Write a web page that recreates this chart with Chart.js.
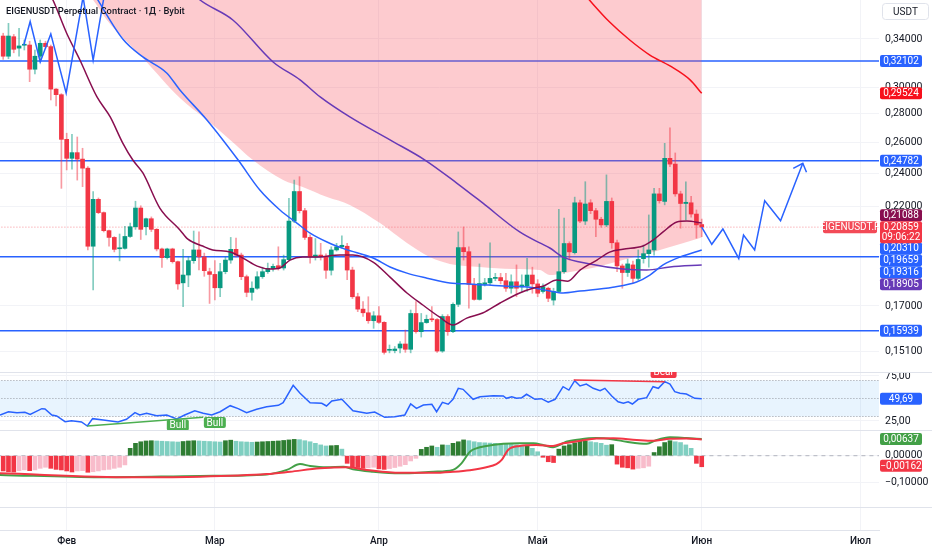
<!DOCTYPE html>
<html>
<head>
<meta charset="utf-8">
<title>EIGENUSDT</title>
<script src="https://cdn.jsdelivr.net/npm/chart.js@4.4.1/dist/chart.umd.min.js"></script>
<style>
  html, body { margin: 0; padding: 0; background: #ffffff; }
  #wrap { position: relative; width: 932px; height: 550px; overflow: hidden; }
  #wrap canvas { position: absolute; left: 0; }
  #title { position: absolute; left: 6px; top: 5px; font: 500 9.4px Roboto, sans-serif; color: #131722; z-index: 5; }
</style>
</head>
<body>
<div id="wrap">
  <canvas id="mainPane" width="932" height="372" style="top:0"></canvas>
  <canvas id="rsiPane" width="932" height="58" style="top:372px"></canvas>
  <canvas id="macdPane" width="932" height="77" style="top:430px"></canvas>
  <canvas id="timePane" width="932" height="43" style="top:507px"></canvas>
  <div id="title">EIGENUSDT Perpetual Contract · 1Д · Bybit</div>
</div>
<script>
// ---- data (bar index 0 = first visible daily candle) ----
const monthIdx = [12, 40, 71, 101, 132, 162];
const monthLabels = ['Фев', 'Мар', 'Апр', 'Май', 'Июн', 'Июл'];
const priceTicks = [0.34, 0.30, 0.28, 0.26, 0.24, 0.22, 0.17, 0.151];

const opens = [
  0.3426,0.3251,0.3420,0.3320,0.3345,0.3347,0.3143,0.3251,0.3362,0.3333,
  0.2985,0.2942,0.2620,0.2494,0.2531,0.2489,0.2431,0.1985,0.2242,0.2166,
  0.2067,0.2031,0.1972,0.1974,0.2036,0.2088,0.2192,0.2088,0.2132,0.2074,
  0.1971,0.1927,0.1971,0.1907,0.1805,0.1842,0.1912,0.1966,0.1931,0.1858,
  0.1845,0.1782,0.1858,0.1915,0.1969,0.1940,0.1834,0.1761,0.1780,0.1834,
  0.1858,0.1873,0.1887,0.1876,0.1917,0.2119,0.2288,0.2177,0.2031,0.1931,
  0.1940,0.1933,0.1865,0.1966,0.1982,0.1985,0.1866,0.1741,0.1686,0.1670,
  0.1636,0.1657,0.1629,0.1515,0.1514,0.1524,0.1540,0.1519,0.1667,0.1590,
  0.1628,0.1643,0.1641,0.1512,0.1654,0.1590,0.1707,0.1978,0.1957,0.1798,
  0.1729,0.1798,0.1805,0.1826,0.1830,0.1815,0.1780,0.1810,0.1786,0.1790,
  0.1842,0.1800,0.1765,0.1780,0.1726,0.1765,0.1858,0.1999,0.1952,0.2222,
  0.2119,0.2222,0.2177,0.2129,0.2098,0.2230,0.2003,0.1886,0.1854,0.1891,
  0.1826,0.1922,0.1947,0.1966,0.2274,0.2230,0.2494,0.2457,0.2274,0.2218,
  0.2222,0.2158,0.2100];
const highs = [
  0.3451,0.3541,0.3440,0.3495,0.3391,0.3380,0.3304,0.3391,0.3380,0.3347,
  0.2990,0.2950,0.2662,0.2655,0.2636,0.2560,0.2441,0.2288,0.2250,0.2170,
  0.2070,0.2035,0.2049,0.2090,0.2108,0.2231,0.2205,0.2135,0.2142,0.2078,
  0.1975,0.1975,0.1975,0.1910,0.1969,0.1931,0.2065,0.2060,0.1950,0.1875,
  0.1912,0.1899,0.1931,0.2031,0.2027,0.1950,0.1842,0.1810,0.1858,0.1880,
  0.1900,0.1895,0.1982,0.1940,0.2248,0.2357,0.2378,0.2190,0.2044,0.2025,
  0.2000,0.1946,0.1982,0.2000,0.2040,0.2000,0.1880,0.1757,0.1719,0.1741,
  0.1675,0.1697,0.1632,0.1536,0.1530,0.1550,0.1597,0.1682,0.1719,0.1667,
  0.1660,0.1697,0.1645,0.1662,0.1662,0.1714,0.2060,0.2087,0.1982,0.1826,
  0.1896,0.1826,0.2003,0.1850,0.1850,0.1850,0.1843,0.1891,0.1843,0.1923,
  0.1880,0.1820,0.1800,0.1785,0.1780,0.2185,0.2135,0.2008,0.2255,0.2238,
  0.2347,0.2240,0.2190,0.2140,0.2389,0.2250,0.2017,0.1895,0.1920,0.1910,
  0.1966,0.1991,0.2153,0.2307,0.2307,0.2593,0.2700,0.2529,0.2290,0.2347,
  0.2260,0.2181,0.2130];
const lows = [
  0.3225,0.3230,0.3280,0.3251,0.3304,0.3043,0.3106,0.3205,0.3320,0.2902,
  0.2858,0.2307,0.2420,0.2424,0.2357,0.2317,0.1966,0.1772,0.2160,0.2060,
  0.1985,0.1956,0.1911,0.1970,0.2031,0.2074,0.2020,0.2044,0.2062,0.1961,
  0.1879,0.1920,0.1900,0.1775,0.1697,0.1787,0.1899,0.1866,0.1836,0.1711,
  0.1727,0.1741,0.1848,0.1899,0.1931,0.1820,0.1741,0.1726,0.1775,0.1826,
  0.1850,0.1860,0.1866,0.1866,0.1915,0.2110,0.2164,0.2020,0.1899,0.1915,
  0.1915,0.1826,0.1842,0.1960,0.1975,0.1820,0.1733,0.1675,0.1654,0.1625,
  0.1604,0.1625,0.1500,0.1505,0.1505,0.1505,0.1507,0.1505,0.1584,0.1568,
  0.1625,0.1632,0.1507,0.1507,0.1575,0.1586,0.1697,0.1915,0.1690,0.1726,
  0.1726,0.1790,0.1795,0.1815,0.1800,0.1765,0.1757,0.1741,0.1765,0.1765,
  0.1757,0.1741,0.1757,0.1719,0.1704,0.1760,0.1850,0.1915,0.1945,0.2110,
  0.2100,0.2160,0.2035,0.2085,0.2088,0.1974,0.1858,0.1780,0.1835,0.1805,
  0.1818,0.1900,0.1880,0.1940,0.2220,0.2210,0.2440,0.2260,0.2080,0.2125,
  0.2140,0.2027,0.2035];
const closes = [
  0.3251,0.3426,0.3310,0.3339,0.3350,0.3143,0.3251,0.3362,0.3333,0.2985,
  0.2942,0.2620,0.2494,0.2531,0.2489,0.2431,0.1985,0.2242,0.2166,0.2067,
  0.2031,0.1969,0.1976,0.2036,0.2088,0.2192,0.2074,0.2132,0.2074,0.1971,
  0.1927,0.1971,0.1907,0.1800,0.1842,0.1912,0.1966,0.1931,0.1863,0.1845,
  0.1782,0.1858,0.1915,0.1969,0.1940,0.1834,0.1761,0.1780,0.1834,0.1858,
  0.1874,0.1884,0.1876,0.1917,0.2119,0.2288,0.2177,0.2031,0.1931,0.1940,
  0.1933,0.1865,0.1966,0.1982,0.1990,0.1866,0.1741,0.1686,0.1670,0.1636,
  0.1657,0.1629,0.1507,0.1519,0.1520,0.1540,0.1519,0.1667,0.1590,0.1628,
  0.1642,0.1640,0.1512,0.1654,0.1590,0.1707,0.1978,0.1957,0.1798,0.1729,
  0.1802,0.1805,0.1826,0.1830,0.1815,0.1780,0.1810,0.1780,0.1795,0.1842,
  0.1800,0.1757,0.1787,0.1734,0.1765,0.1858,0.1999,0.1956,0.2222,0.2119,
  0.2215,0.2177,0.2129,0.2098,0.2230,0.2003,0.1886,0.1854,0.1896,0.1826,
  0.1918,0.1947,0.1966,0.2274,0.2234,0.2494,0.2457,0.2274,0.2218,0.2225,
  0.2158,0.2098,0.2086];
const lastPrice = 0.20859;
const countdown = '09:06:22';

// moving averages, sampled as [bar index, price]
const ema20 = [[7.9,0.3912],[9.4,0.3762],[12.0,0.3451],[14.5,0.3219],[17.7,0.2927],[20.2,0.2779],[22.6,0.2595],
  [24.5,0.2483],[26.4,0.2401],[29.6,0.2192],[33.4,0.2071],[34.9,0.2022],[37.7,0.1986],[39.6,0.1966],[42.9,0.1956],
  [45.3,0.1925],[48.0,0.1885],[50.4,0.1871],[52.3,0.1876],[54.2,0.1915],[56.6,0.1930],[59.3,0.1930],[63.6,0.1940],
  [66.1,0.1940],[69.9,0.1905],[73.1,0.1832],[76.3,0.1758],[79.3,0.1704],[82.5,0.1651],[85.0,0.1618],[87.6,0.1647],
  [90.6,0.1669],[93.9,0.1713],[97.6,0.1758],[100.1,0.1780],[102.0,0.1789],[104.6,0.1818],[106.7,0.1813],[109.0,0.1866],
  [112.2,0.1915],[114.6,0.1955],[117.1,0.1970],[120.9,0.1986],[122.8,0.2017],[124.7,0.2060],[127.3,0.2114],
  [129.2,0.2119],[132.0,0.21088]];
const ema50 = [[17.3,0.3812],[22.6,0.3400],[26.4,0.3245],[30.9,0.3113],[33.4,0.2978],[38.5,0.2755],[44.4,0.2483],
  [48.5,0.2297],[52.3,0.2181],[55.5,0.2108],[58.0,0.2054],[61.2,0.2007],[64.6,0.1970],[69.9,0.1925],[73.1,0.1881],
  [76.3,0.1851],[80.1,0.1827],[84.4,0.1804],[88.8,0.1799],[95.2,0.1789],[99.5,0.1785],[103.3,0.1767],[105.8,0.1758],
  [109.0,0.1767],[115.2,0.1785],[119.7,0.1809],[122.2,0.1842],[124.7,0.1891],[127.9,0.1930],[132.0,0.19659]];
const ema100 = [[36.2,0.3812],[37.2,0.3762],[43.4,0.3572],[51.0,0.3203],[56.1,0.3057],[59.9,0.2925],[65.5,0.2777],
  [73.1,0.2616],[79.7,0.2483],[85.7,0.2339],[90.6,0.2221],[97.6,0.2060],[101.4,0.2002],[103.3,0.1976],[105.8,0.1930],
  [110.9,0.1896],[117.1,0.1871],[121.6,0.1866],[126.0,0.1881],[132.0,0.18905]];
const ema200 = [[109.9,0.3812],[114.6,0.3553],[118.4,0.3391],[122.2,0.3261],[126.0,0.3170],[129.8,0.3057],[132.0,0.29524]];
const cloudEdge = [[16.0,0.3812],[17.0,0.3762],[19.6,0.3572],[26.4,0.3236],[33.4,0.2917],[38.5,0.2755],[42.9,0.2616],
  [47.2,0.2483],[52.9,0.2357],[56.6,0.2315],[61.2,0.2255],[65.5,0.2210],[71.2,0.2108],[76.3,0.2002],[80.6,0.1930],
  [84.4,0.1896],[90.1,0.1881],[96.3,0.1871],[101.4,0.1866],[103.3,0.1842],[105.8,0.1851],[112.2,0.1881],[117.1,0.1915],
  [122.2,0.1950],[126.0,0.1981],[129.2,0.2007],[132.0,0.20310]];

// drawings
const levels = [0.32102, 0.24782, 0.19316, 0.15939];
const zigzagPast = [[3.9,0.3347],[5.1,0.3558],[7.0,0.3203],[9.0,0.3445],[11.9,0.2955],[15.1,0.3792],[17.0,0.3219],[19.6,0.3963]];
const zigzagPlan = [[132.0,0.2086],[133.9,0.1995],[136.0,0.2076],[139.0,0.1923],[139.9,0.2043],[142.0,0.1966],
  [143.9,0.2234],[146.9,0.2121],[151.1,0.2462]];
const planArrow = [[149.3,0.2430],[151.1,0.2462],[151.8,0.2405]];

// RSI
const rsiIdx = [-0.6,1.0,2.6,4.1,5.1,7.3,7.9,9.2,10.1,11.7,12.9,14.8,15.9,16.9,18.9,21.7,23.3,24.9,25.8,27.1,29.0,30.9,
  32.8,34.3,36.2,37.8,39.4,41.0,42.9,44.4,46.0,47.9,49.8,52.0,52.9,54.8,56.1,58.0,60.2,61.1,62.1,64.0,66.1,68.7,70.2,
  72.1,74.0,75.9,77.0,78.1,79.4,81.0,81.9,83.0,84.1,85.0,86.0,86.9,88.8,90.1,92.6,94.5,95.1,96.1,97.0,98.0,98.9,100.5,
  101.7,103.0,104.3,105.8,106.9,108.0,109.0,110.2,111.5,112.8,113.7,115.0,116.2,117.2,118.1,118.9,120.0,121.6,122.8,
  123.8,125.0,126.0,126.9,127.9,129.1,130.7,132.0];
const rsiVal = [31.7,35.3,34.3,34.6,32.4,38.7,38.3,31.7,30.6,24.3,25.4,23.9,19.4,27.6,26.1,23.9,26.9,34.3,31.7,33.6,30.9,
  31.7,27.2,31.7,36.4,33.6,31.7,35.3,42.0,38.7,34.3,38.0,40.9,42.4,45.3,64.7,55.8,45.3,44.7,41.7,47.2,49.1,36.4,33.6,
  35.0,29.1,29.8,31.7,43.9,39.1,42.8,43.6,35.3,45.8,43.6,49.1,61.3,60.2,49.1,52.0,53.1,52.8,50.2,52.0,50.2,50.9,54.7,
  49.1,49.8,45.8,49.1,63.1,59.4,69.8,63.9,66.1,61.3,58.7,61.3,52.8,46.4,44.7,46.4,43.9,49.1,50.9,63.1,61.3,68.7,66.1,
  57.6,55.8,55.0,50.2,49.69];
const rsiLevels = [70, 50, 30];
const rsiTicks = [75, 25];
const bullDiv = [[15.9,19.4],[37.8,29.1]];
const bearDiv = [[107.8,70.6],[125.0,68.7]];
const bullTagIdx = [33, 40];
const bullTagRsi = [20.6, 23.3];
const bearTag = [124.8, 79.4];

// MACD
const hist = [
  -0.0058,-0.0061,-0.0062,-0.0057,-0.0054,-0.0057,-0.0054,-0.0048,-0.0044,-0.0048,
  -0.0052,-0.0054,-0.0058,-0.0062,-0.0058,-0.0057,-0.0063,-0.0061,-0.0058,-0.0054,
  -0.0052,-0.0048,-0.0044,-0.0035,0.0028,0.0047,0.0053,0.0056,0.0057,0.0056,
  0.0055,0.0054,0.0053,0.0052,0.0054,0.0056,0.0057,0.0056,0.0055,0.0054,
  0.0053,0.0052,0.0057,0.0059,0.0055,0.0053,0.0052,0.0051,0.0052,0.0053,
  0.0054,0.0055,0.0056,0.0058,0.0060,0.0062,0.0061,0.0057,0.0053,0.0047,
  0.0041,0.0037,0.0038,0.0039,0.0025,-0.0029,-0.0042,-0.0045,-0.0048,-0.0046,
  -0.0044,-0.0050,-0.0052,-0.0049,-0.0045,-0.0040,-0.0034,-0.0020,-0.0010,0.0024,
  0.0032,0.0037,0.0032,0.0041,0.0040,0.0047,0.0053,0.0060,0.0057,0.0053,
  0.0050,0.0049,0.0048,0.0047,0.0046,0.0044,0.0043,0.0041,0.0038,0.0040,
  0.0028,0.0015,-0.0006,-0.0023,-0.0026,0.0025,0.0037,0.0042,0.0049,0.0055,
  0.0056,0.0053,0.0050,0.0047,0.0040,0.0042,-0.0032,-0.0044,-0.0046,-0.0051,
  -0.0048,-0.0046,-0.0040,0.0012,0.0034,0.0050,0.0057,0.0053,0.0050,0.0041,
  0.0028,-0.0029,-0.0042];
const macdLine = [[-0.6,-0.0073],[18.3,-0.0082],[37.2,-0.0077],[49.8,-0.0071],[53.6,-0.0054],[56.1,-0.0032],[58.0,-0.0039],
  [61.1,-0.0044],[64.3,-0.0042],[66.1,-0.0052],[69.9,-0.0061],[75.0,-0.0067],[81.3,-0.0061],[85.0,-0.0054],[86.6,-0.0029],
  [88.2,0.0015],[89.4,0.0028],[91.3,0.0037],[94.5,0.0045],[97.6,0.0047],[100.2,0.0047],[102.0,0.0041],[103.9,0.0032],
  [105.2,0.0041],[106.4,0.0053],[108.9,0.0062],[112.1,0.0067],[115.3,0.0062],[117.8,0.0053],[121.6,0.0045],[123.5,0.0060],
  [126.0,0.0070],[129.1,0.0067],[132.0,0.00637]];
const signalLine = [[-0.6,-0.0067],[24.6,-0.0082],[37.2,-0.0080],[49.8,-0.0070],[54.2,-0.0061],[59.9,-0.0048],[64.9,-0.0044],
  [68.7,-0.0054],[75.0,-0.0065],[81.3,-0.0065],[85.0,-0.0061],[88.2,-0.0055],[91.3,-0.0044],[93.2,-0.0032],[94.2,-0.0016],
  [95.4,0.0022],[97.6,0.0037],[100.8,0.0041],[103.9,0.0037],[105.8,0.0047],[108.9,0.0056],[112.1,0.0065],[115.3,0.0066],
  [119.7,0.0060],[122.8,0.0057],[126.0,0.0064],[129.1,0.0065],[132.0,0.0062]];
const macdTicks = [0, -0.01];
const macdTickText = ['0,00000', '−0,10000'];
const histLastTag = -0.00162;

// ---- layout ----
const xMin = -0.6, xMax = 165.5;
const axisW = 53;
const priceMin = 0.1432, priceMax = 0.3762;
const rsiMin = 15.0, rsiMax = 79.44;
const macdMin = -0.0195, macdMax = 0.00977;
const blue = '#2962ff', gridC = '#f2f3f7', sepC = '#e0e3eb';

Chart.defaults.font.family = 'Roboto, "DejaVu Sans", sans-serif';
Chart.defaults.font.size = 10.5;
Chart.defaults.color = '#131722';
Chart.defaults.animation = false;
Chart.defaults.plugins.legend.display = false;
Chart.defaults.plugins.tooltip.enabled = false;

const fmt = (v, d) => (v < 0 ? '−' : '') + Math.abs(v).toFixed(d).replace('.', ',');
const pts = arr => arr.map(([x, y]) => ({ x, y }));
const flat = v => [{ x: xMin - 2, y: v }, { x: xMax + 2, y: v }];
const line = (data, color, width, order, extra) => Object.assign({
  type: 'line', data, borderColor: color, borderWidth: width, pointRadius: 0, fill: false, order
}, extra || {});

function tag(ctx, cx, cy, w, h, fill, text, color) {
  ctx.save();
  ctx.fillStyle = fill;
  ctx.beginPath();
  ctx.roundRect(cx - w / 2, cy - h / 2, w, h, 2);
  ctx.fill();
  ctx.fillStyle = color || '#ffffff';
  ctx.font = '10px Roboto, sans-serif';
  ctx.textAlign = 'center';
  ctx.textBaseline = 'middle';
  ctx.fillText(text, cx, cy + 0.5);
  ctx.restore();
}

const xAxis = (showLabels) => ({
  type: 'linear', min: xMin, max: xMax, offset: false,
  grid: { color: gridC, drawTicks: false, offset: false },
  border: { display: !!showLabels, color: sepC },
  ticks: showLabels
    ? { display: true, padding: 5, maxRotation: 0, font: { size: 10, weight: '500' },
        callback: v => monthLabels[monthIdx.indexOf(v)] }
    : { display: false },
  afterBuildTicks: s => { s.ticks = monthIdx.map(v => ({ value: v })); },
  afterFit: s => {
    if (showLabels) s.height = 20;
    s.paddingLeft = 0;
    s.paddingRight = 0;
  }
});
const rightAxis = (extra) => Object.assign({
  position: 'right',
  grid: { color: gridC, drawTicks: false },
  border: { display: false },
  afterFit: s => {
    s.width = axisW;
    s.paddingTop = 0;
    s.paddingBottom = 0;
  }
}, extra);

const paneTop = {
  id: 'paneTop',
  afterDraw(chart) {
    const ctx = chart.ctx;
    ctx.save();
    ctx.strokeStyle = sepC;
    ctx.lineWidth = 1;
    ctx.beginPath();
    ctx.moveTo(0, 0.5);
    ctx.lineTo(chart.width, 0.5);
    ctx.stroke();
    ctx.restore();
  }
};

// ---- main pane ----
const isUp = i => closes[i] >= opens[i];
const axisMarks = [
  { v: levels[0], c: blue },
  { v: ema200[ema200.length - 1][1], c: '#f7101c' },
  { v: levels[1], c: blue },
  { v: ema20[ema20.length - 1][1], c: '#880e4f' },
  { v: cloudEdge[cloudEdge.length - 1][1], c: blue },
  { v: ema50[ema50.length - 1][1], c: blue },
  { v: levels[2], c: blue },
  { v: ema100[ema100.length - 1][1], c: '#673ab7' },
  { v: levels[3], c: blue }
];

const mainMarks = {
  id: 'mainMarks',
  afterDraw(chart) {
    const { ctx, chartArea } = chart;
    const y = chart.scales.y;
    const cx = chartArea.right + 22;
    const cy = y.getPixelForValue(lastPrice);
    const above = [], below = [];
    axisMarks.forEach(m => {
      const py = y.getPixelForValue(m.v);
      (py < cy ? above : below).push({ v: m.v, c: m.c, py });
    });
    above.sort((a, b) => b.py - a.py);
    let lim = cy - 12;
    above.forEach(m => { m.py = Math.min(m.py, lim); lim = m.py - 12; });
    below.sort((a, b) => a.py - b.py);
    lim = cy + 21;
    below.forEach(m => { m.py = Math.max(m.py, lim); lim = m.py + 12; });
    above.concat(below).forEach(m => tag(ctx, cx, m.py, 42, 12, m.c, fmt(m.v, 5)));

    // last price with countdown
    ctx.save();
    ctx.fillStyle = '#f23645';
    ctx.beginPath();
    ctx.roundRect(cx - 21, cy - 6, 42, 22, 2);
    ctx.fill();
    ctx.fillStyle = '#ffffff';
    ctx.font = '10px Roboto, sans-serif';
    ctx.textAlign = 'center';
    ctx.textBaseline = 'middle';
    ctx.fillText(fmt(lastPrice, 5), cx, cy + 0.5);
    ctx.fillText(countdown, cx, cy + 10.5);
    ctx.restore();
    tag(ctx, chartArea.right - 29, cy, 54, 12, 'rgba(242,54,69,0.9)', 'EIGENUSDT.P');

    // currency box
    ctx.save();
    ctx.fillStyle = '#ffffff';
    ctx.strokeStyle = sepC;
    ctx.beginPath();
    ctx.roundRect(chartArea.right + 3.5, 3.5, 46, 16, 3);
    ctx.fill();
    ctx.stroke();
    ctx.fillStyle = '#131722';
    ctx.font = '10px Roboto, sans-serif';
    ctx.textAlign = 'center';
    ctx.textBaseline = 'middle';
    ctx.fillText('USDT', chartArea.right + 26.5, 12);
    ctx.restore();
  }
};

new Chart(document.getElementById('mainPane'), {
  type: 'bar',
  data: {
    datasets: [
      ...levels.map(v => line(flat(v), blue, 1.5, 30)),
      line(flat(lastPrice), 'rgba(242,54,69,0.55)', 1, 25, { borderDash: [1, 2] }),
      line(pts(cloudEdge), 'rgba(0,0,0,0)', 0, 20,
        { fill: 'end', backgroundColor: 'rgba(247,82,95,0.3)', cubicInterpolationMode: 'monotone' }),
      {
        type: 'bar', order: 12, grouped: false, barThickness: 1,
        data: closes.map((c, i) => ({ x: i, y: [lows[i], highs[i]] })),
        backgroundColor: ctx => isUp(ctx.dataIndex) ? 'rgba(8,153,129,0.5)' : 'rgba(242,54,69,0.5)'
      },
      {
        type: 'bar', order: 11, grouped: false, barThickness: 4, minBarLength: 1,
        data: closes.map((c, i) => ({ x: i, y: [opens[i], c] })),
        backgroundColor: ctx => isUp(ctx.dataIndex) ? '#089981' : '#f23645'
      },
      line(pts(ema100), '#673ab7', 1.5, 8, { cubicInterpolationMode: 'monotone' }),
      line(pts(ema50), blue, 1.5, 7, { cubicInterpolationMode: 'monotone' }),
      line(pts(ema20), '#880e4f', 1.5, 6, { cubicInterpolationMode: 'monotone' }),
      line(pts(ema200), '#f7101c', 1.5, 5, { cubicInterpolationMode: 'monotone' }),
      line(pts(zigzagPast), blue, 1.5, 2),
      line(pts(zigzagPlan), blue, 1.5, 2),
      line(pts(planArrow), blue, 1.5, 2)
    ]
  },
  options: {
    responsive: false,
    layout: { padding: 0 },
    scales: {
      x: xAxis(false),
      y: rightAxis({
        type: 'logarithmic', min: priceMin, max: priceMax, beginAtZero: false,
        ticks: { padding: 6, callback: v => fmt(v, 5) },
        afterBuildTicks: s => { s.ticks = priceTicks.map(v => ({ value: v })); }
      })
    }
  },
  plugins: [mainMarks]
});

// ---- RSI pane ----
const rsiMarks = {
  id: 'rsiMarks',
  afterDraw(chart) {
    const { ctx, chartArea } = chart;
    const { x, y } = chart.scales;
    tag(ctx, chartArea.right + 22, y.getPixelForValue(rsiVal[rsiVal.length - 1]), 42, 12, blue, fmt(rsiVal[rsiVal.length - 1], 2));
    bullTagIdx.forEach((i, k) => tag(ctx, x.getPixelForValue(i), y.getPixelForValue(bullTagRsi[k]), 22, 11, '#4caf50', 'Bull'));
    tag(ctx, x.getPixelForValue(bearTag[0]), y.getPixelForValue(bearTag[1]), 26, 12, '#f23645', 'Bear');
  }
};

new Chart(document.getElementById('rsiPane'), {
  type: 'line',
  data: {
    datasets: [
      line(flat(rsiLevels[0]), '#9598a1', 1, 10, { borderDash: [1, 2], fill: { value: rsiLevels[2] }, backgroundColor: 'rgba(33,150,243,0.1)' }),
      line(flat(rsiLevels[1]), '#9598a1', 1, 9, { borderDash: [1, 2] }),
      line(flat(rsiLevels[2]), '#9598a1', 1, 9, { borderDash: [1, 2] }),
      line(rsiIdx.map((x, i) => ({ x, y: rsiVal[i] })), blue, 1.5, 3),
      line(pts(bullDiv), '#4caf50', 1.5, 2),
      line(pts(bearDiv), '#f23645', 1.5, 2)
    ]
  },
  options: {
    responsive: false,
    layout: { padding: 0 },
    scales: {
      x: xAxis(false),
      y: rightAxis({
        type: 'linear', min: rsiMin, max: rsiMax,
        ticks: { padding: 6, callback: v => fmt(v, 2) },
        afterBuildTicks: s => { s.ticks = rsiTicks.map(v => ({ value: v })); }
      })
    }
  },
  plugins: [paneTop, rsiMarks]
});

// ---- MACD pane ----
const histColor = i => {
  const v = hist[i], p = i > 0 ? hist[i - 1] : v;
  if (v >= 0) return v >= p ? '#2e7d32' : '#7fcfc1';
  return v <= p ? '#f23645' : '#f8bccb';
};
const macdMarks = {
  id: 'macdMarks',
  afterDraw(chart) {
    const { ctx, chartArea } = chart;
    const y = chart.scales.y;
    const cx = chartArea.right + 22;
    tag(ctx, cx, y.getPixelForValue(macdLine[macdLine.length - 1][1]), 42, 12, '#43a047', fmt(macdLine[macdLine.length - 1][1], 5));
    tag(ctx, cx, y.getPixelForValue(0) + 10, 42, 12, '#f23645', fmt(histLastTag, 5));
  }
};

new Chart(document.getElementById('macdPane'), {
  type: 'bar',
  data: {
    datasets: [
      line(flat(0), '#b2b5be', 1, 10, { borderDash: [4, 4] }),
      {
        type: 'bar', order: 8, grouped: false, barThickness: 4,
        data: hist.map((v, i) => ({ x: i, y: v })),
        backgroundColor: ctx => histColor(ctx.dataIndex)
      },
      line(pts(macdLine), '#43a047', 2, 3, { cubicInterpolationMode: 'monotone' }),
      line(pts(signalLine), '#f23645', 2, 2, { cubicInterpolationMode: 'monotone' })
    ]
  },
  options: {
    responsive: false,
    layout: { padding: 0 },
    scales: {
      x: xAxis(false),
      y: rightAxis({
        type: 'linear', min: macdMin, max: macdMax, beginAtZero: false,
        ticks: { padding: 6, callback: v => macdTickText[macdTicks.indexOf(v)] },
        afterBuildTicks: s => { s.ticks = macdTicks.map(v => ({ value: v })); }
      })
    }
  },
  plugins: [paneTop, macdMarks]
});

// ---- time axis ----
new Chart(document.getElementById('timePane'), {
  type: 'line',
  data: { datasets: [] },
  options: {
    responsive: false,
    layout: { padding: 0 },
    scales: {
      x: xAxis(true),
      y: rightAxis({ type: 'linear', min: 0, max: 1, grid: { display: false }, ticks: { display: false } })
    }
  },
  plugins: [paneTop]
});
</script>
</body>
</html>
